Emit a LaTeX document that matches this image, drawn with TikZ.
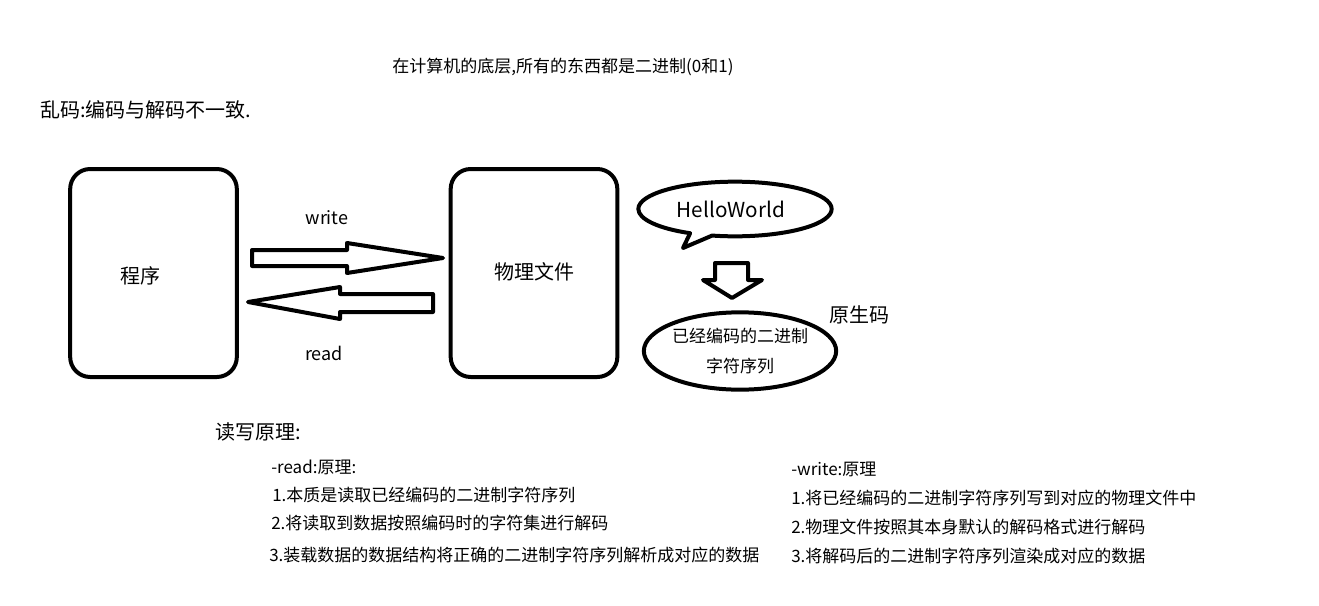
\documentclass[tikz,border=0pt]{standalone}
\usepackage{fontspec}
\setmainfont{Noto Sans CJK SC}
\usetikzlibrary{shapes.geometric,shapes.callouts}
\begin{document}
\begin{tikzpicture}[x=0.75pt,y=-0.75pt,
  heavy/.style={line width=3pt,line join=round},
  boxnode/.style={heavy,draw,rounded corners=15pt,minimum width=125pt,minimum height=156pt,inner sep=0pt},
  txt/.style={inner sep=0pt,anchor=west,font=\fontsize{12.75pt}{15pt}\selectfont},
  bigtxt/.style={inner sep=0pt,anchor=west,font=\fontsize{15pt}{18pt}\selectfont},
  lbl/.style={inner sep=0pt,font=\fontsize{13.5pt}{16pt}\selectfont}]
\useasboundingbox (0,0) rectangle (1319,606);
\fill[white] (0,0) rectangle (1319,606);

\node[inner sep=0pt,font=\fontsize{12.75pt}{15pt}\selectfont] (title) at (563,67) {在计算机的底层,所有的东西都是二进制(0和1)};
\node[bigtxt] (luanma) at (40,110) {乱码:编码与解码不一致.};

\node[boxnode] (prog) at (153.5,273) {};
\node[bigtxt] (progtxt) at (120,276) {程序};
\node[boxnode] (file) at (534,273) {};
\node[bigtxt] (filetxt) at (494,272) {物理文件};

% write arrow
\draw[heavy] (252,250) -- (347,250) -- (347,243) -- (443,258) -- (347,273) -- (347,266) -- (252,266) -- cycle;
% read arrow
\draw[heavy] (433,294) -- (340,294) -- (340,287) -- (248,302) -- (340,319) -- (340,312) -- (433,312) -- cycle;
\node[lbl] (wlbl) at (327,218) {write};
\node[lbl] (rlbl) at (324,353) {read};

% speech bubble
\node[ellipse callout,heavy,draw,minimum width=145pt,minimum height=41pt,inner sep=0pt,
  callout absolute pointer={(683,248)},callout pointer arc=14] (hello) at (735,209) {};
\node[inner sep=0pt,font=\fontsize{15.5pt}{18pt}\selectfont] (hellotxt) at (731,209) {HelloWorld};

% down arrow
\draw[heavy] (715,263) -- (748,263) -- (748,280) -- (762,280) -- (732,298) -- (703,280) -- (715,280) -- cycle;

\node[ellipse,heavy,draw,minimum width=139pt,minimum height=58pt,inner sep=0pt,
  align=center,font=\fontsize{12.75pt}{22pt}\selectfont] (seq) at (740,351) {已经编码的二进制\\字符序列};
\node[bigtxt] (yuan) at (829,315) {原生码};

\node[bigtxt] (rw) at (215,432) {读写原理:};
\node[txt] (r0) at (271,467) {-read:原理:};
\node[txt] (r1) at (272,495) {1.本质是读取已经编码的二进制字符序列};
\node[txt] (r2) at (271,523) {2.将读取到数据按照编码时的字符集进行解码};
\node[txt] (r3) at (269,555) {3.装载数据的数据结构将正确的二进制字符序列解析成对应的数据};

\node[txt] (w0) at (791,469) {-write:原理};
\node[txt] (w1) at (791,498) {1.将已经编码的二进制字符序列写到对应的物理文件中};
\node[txt] (w2) at (791,527) {2.物理文件按照其本身默认的解码格式进行解码};
\node[txt] (w3) at (791,556) {3.将解码后的二进制字符序列渲染成对应的数据};
\end{tikzpicture}
\end{document}
